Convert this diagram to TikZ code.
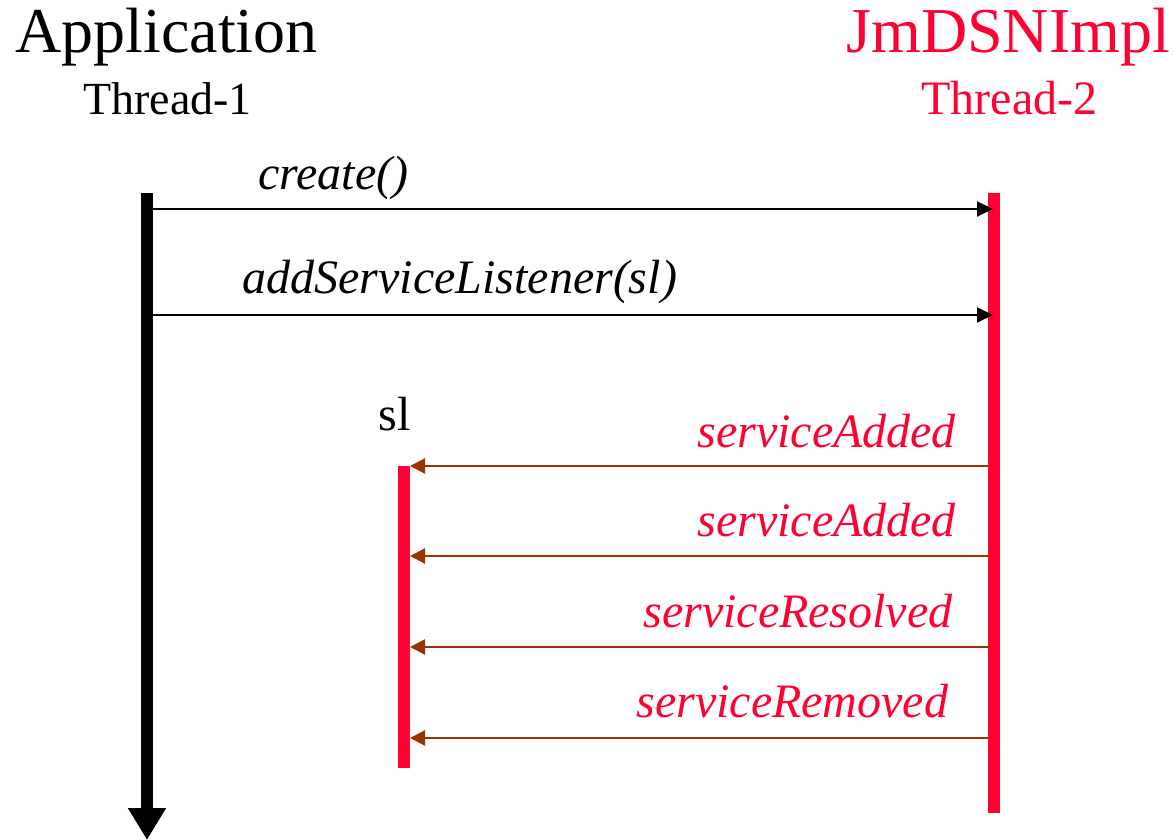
\documentclass[tikz,border=0pt]{standalone}
\usepackage{fontspec}
\setmainfont{Liberation Serif}
\usetikzlibrary{arrows.meta}
\definecolor{implred}{HTML}{FF0033}
\definecolor{callbrown}{HTML}{993300}
\tikzset{
  lifeline/.style={line width=6pt},
  call/.style={line width=1pt, -{Triangle[length=8pt,width=7.5pt]}},
  callback/.style={line width=1.1pt, draw=callbrown, -{Triangle[length=7.5pt,width=7.5pt]}},
  title/.style={inner sep=0pt, anchor=base west, font=\fontsize{32}{36}\selectfont},
  threadname/.style={inner sep=0pt, anchor=base west, font=\fontsize{23}{27}\selectfont},
  msg/.style={inner sep=0pt, anchor=base west, font=\fontsize{24}{28}\selectfont\itshape},
}
\begin{document}
\begin{tikzpicture}[x=0.5pt, y=-0.5pt]
\useasboundingbox (0,0) rectangle (1175,840);

% headers
\node[title] (app) at (15,53) {Application};
\node[threadname] (t1) at (83,115) {Thread-1};
\node[title, text=implred] (impl) at (846,53) {JmDSNImpl};
\node[threadname, text=implred, font=\fontsize{24}{28}\selectfont] (t2) at (921,115) {Thread-2};

% lifeline end points
\coordinate (appTop) at (147,193);
\coordinate (appEnd) at (147,840);
\coordinate (implTop) at (994,193);
\coordinate (implEnd) at (994,813);
\coordinate (slTop) at (404,466);
\coordinate (slEnd) at (404,768);

% lifelines
\draw[lifeline, -{Triangle[length=16pt,width=18pt]}] (appTop) -- (appEnd);
\draw[lifeline, implred] (implTop) -- (implEnd);
\draw[lifeline, implred] (slTop) -- (slEnd);

% calls from the application
\coordinate (c1s) at (152,209);
\coordinate (c1e) at (993,209);
\coordinate (c2s) at (152,315);
\coordinate (c2e) at (993,315);
\draw[call] (c1s) -- (c1e);
\draw[call] (c2s) -- (c2e);
\node[msg] (create) at (258,190) {create()};
\node[msg] (addsl) at (242,293) {addServiceListener(sl)};

% listener
\node[inner sep=0pt, anchor=base west, font=\fontsize{24}{28}\selectfont] (sl) at (378,430) {sl};

% callbacks to the listener
\foreach \y/\name in {466/cb1, 556/cb2, 647/cb3, 738/cb4} {
  \coordinate (\name s) at (990,\y);
  \coordinate (\name e) at (410,\y);
  \draw[callback] (\name s) -- (\name e);
}
\node[msg, text=implred] (added1) at (697,447) {serviceAdded};
\node[msg, text=implred] (added2) at (697,537) {serviceAdded};
\node[msg, text=implred] (resolved) at (643,627) {serviceResolved};
\node[msg, text=implred] (removed) at (636,717) {serviceRemoved};
\end{tikzpicture}
\end{document}
